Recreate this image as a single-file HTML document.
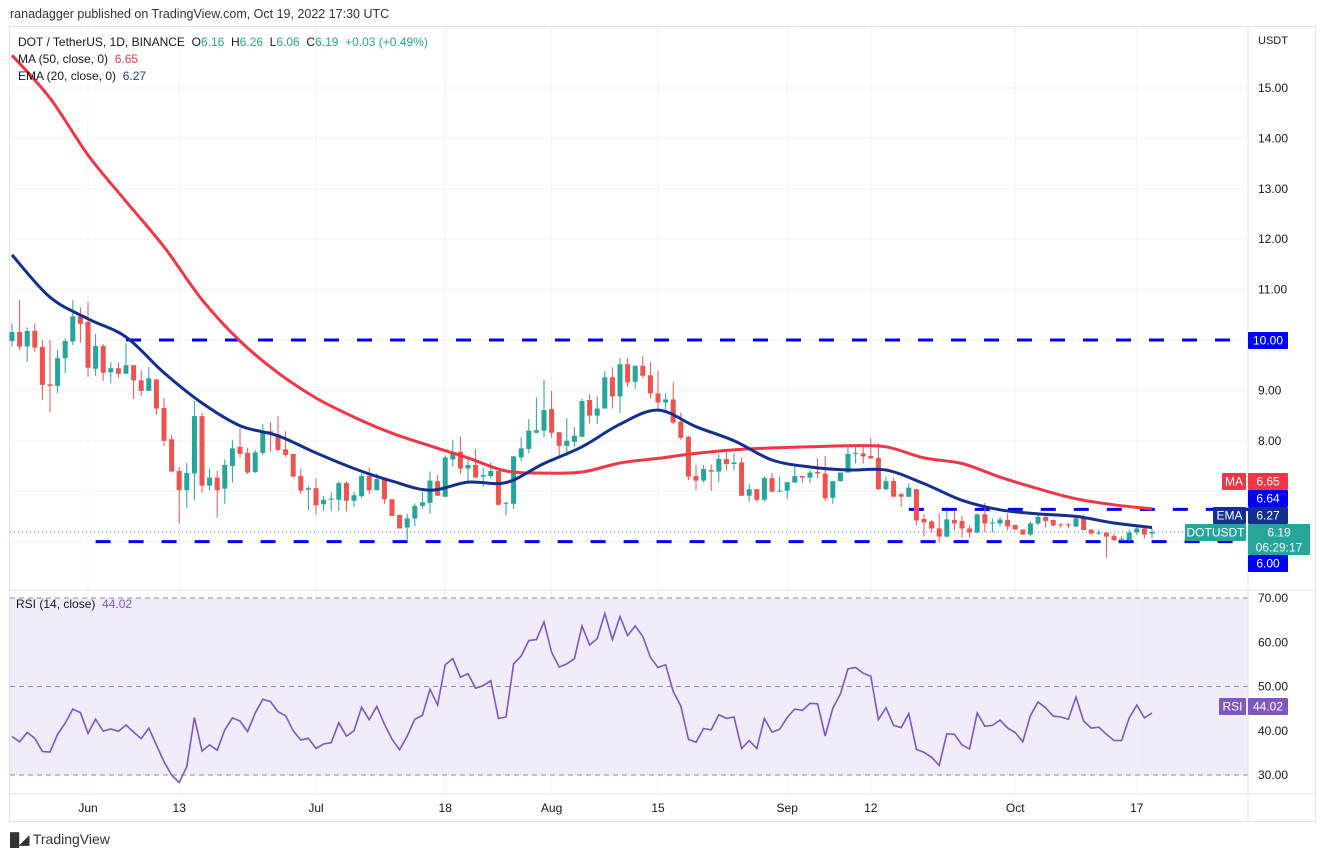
<!DOCTYPE html>
<html><head><meta charset="utf-8"><style>
body{margin:0;width:1326px;height:857px;background:#fff;font-family:"Liberation Sans",sans-serif;overflow:hidden;position:relative}
.t{position:absolute;font-size:12px;color:#131722;white-space:nowrap}
</style></head><body>
<div class="t" style="left:10px;top:7px;font-size:12.5px;color:#333">ranadagger published on TradingView.com, Oct 19, 2022 17:30 UTC</div>
<svg id="c" width="1326" height="857" style="position:absolute;left:0;top:0"></svg>
<div class="t" style="left:18px;top:35px">DOT / TetherUS, 1D, BINANCE&nbsp; O<span style="color:#26a69a">6.16</span>&nbsp; H<span style="color:#26a69a">6.26</span>&nbsp; L<span style="color:#26a69a">6.06</span>&nbsp; C<span style="color:#26a69a">6.19</span>&nbsp; <span style="color:#26a69a">+0.03 (+0.49%)</span></div>
<div class="t" style="left:18px;top:52px">MA (50, close, 0)&nbsp; <span style="color:#f23645">6.65</span></div>
<div class="t" style="left:18px;top:69px">EMA (20, close, 0)&nbsp; <span style="color:#1a3a9e">6.27</span></div>
<div class="t" style="left:16px;top:597px">RSI (14, close)&nbsp; <span style="color:#7e57c2">44.02</span></div>
<div class="t" style="left:10px;top:831px;font-size:14px;color:#333"><b style="font-size:13px">&#9608;&#9698;</b> TradingView</div>
<script>
const opens=[9.98,10.16,9.87,10.18,9.86,9.12,9.09,9.64,9.97,10.47,10.36,9.43,9.88,9.36,9.44,9.33,9.50,9.20,8.99,9.22,8.65,8.03,7.40,7.02,7.35,8.49,7.11,7.27,7.05,7.50,7.88,7.76,7.38,7.76,8.19,8.13,7.83,7.74,7.30,7.03,7.06,6.74,6.83,6.83,7.16,6.81,6.90,7.30,7.02,7.24,6.84,6.53,6.28,6.46,6.71,6.77,7.20,6.89,7.63,7.78,7.45,7.52,7.29,7.30,7.40,6.75,6.75,7.67,7.84,8.16,8.20,8.63,8.17,7.90,7.98,8.08,8.81,8.50,8.64,9.26,8.88,9.52,9.17,9.49,9.30,8.94,8.76,8.82,8.38,8.08,7.30,7.21,7.42,7.39,7.64,7.54,7.57,6.91,7.04,6.83,7.26,6.99,7.01,7.17,7.30,7.27,7.38,7.35,6.87,7.20,7.37,7.74,7.75,7.70,7.66,7.04,7.20,6.94,6.89,7.04,6.45,6.40,6.26,6.10,6.43,6.41,6.26,6.18,6.54,6.36,6.36,6.43,6.33,6.24,6.14,6.36,6.49,6.43,6.34,6.34,6.30,6.46,6.24,6.16,6.18,6.11,6.04,6.03,6.18,6.26,6.16];
const highs=[10.33,10.79,10.25,10.33,10.00,10.00,9.80,10.03,10.79,10.65,10.75,10.12,9.92,9.56,9.56,9.93,9.50,9.40,9.46,9.22,8.85,8.11,7.48,7.56,8.79,8.55,7.45,7.40,7.63,8.02,8.25,7.86,7.82,8.33,8.37,8.49,8.19,7.74,7.44,7.10,7.26,6.91,6.98,7.20,7.20,6.99,7.35,7.47,7.35,7.24,6.84,6.53,6.55,6.76,6.99,7.39,7.32,7.71,8.02,8.08,7.65,7.84,7.47,7.57,7.40,6.79,7.70,8.07,8.43,8.86,9.21,8.99,8.17,8.45,8.27,8.84,8.92,8.88,9.38,9.46,9.64,9.64,9.49,9.68,9.56,9.39,8.94,9.16,8.56,8.10,7.52,7.52,7.53,7.73,7.78,7.75,7.67,7.14,7.04,7.30,7.36,7.29,7.18,7.55,7.30,7.42,7.65,7.70,7.20,7.37,7.93,7.88,7.88,8.05,7.95,7.29,7.26,6.97,7.16,7.04,6.54,6.43,6.56,6.61,6.63,6.51,6.33,6.56,6.77,6.46,6.49,6.56,6.33,6.24,6.40,6.53,6.56,6.44,6.37,6.37,6.48,6.53,6.24,6.24,6.18,6.16,6.10,6.24,6.30,6.30,6.26];
const lows=[9.87,9.80,9.57,9.77,8.81,8.56,8.95,9.34,9.90,9.95,9.27,9.29,9.19,9.14,9.25,9.33,8.83,8.89,8.99,8.52,7.90,7.39,6.36,6.67,6.82,6.97,7.02,6.47,6.75,7.17,7.66,7.34,7.36,7.72,7.78,7.78,7.68,7.27,6.95,6.62,6.54,6.61,6.61,6.61,6.60,6.69,6.87,6.94,7.02,6.75,6.51,6.26,6.00,6.30,6.65,6.56,6.91,6.89,7.49,7.35,7.21,7.27,7.09,7.26,6.73,6.52,6.65,7.59,7.75,8.15,8.07,8.06,7.69,7.70,7.88,8.08,8.35,8.33,8.64,8.64,8.55,9.07,9.03,9.24,8.84,8.62,8.62,8.33,8.02,7.22,7.02,7.17,7.01,7.19,7.41,7.41,6.91,6.79,6.79,6.79,6.99,6.99,6.85,7.17,7.17,7.16,7.26,6.81,6.75,7.19,7.37,7.55,7.55,7.65,7.02,7.02,6.89,6.69,6.89,6.32,6.10,6.18,5.98,6.08,6.23,6.08,6.08,6.16,6.18,6.18,6.30,6.22,6.23,6.13,6.10,6.33,6.28,6.30,6.28,6.26,6.28,6.23,6.13,6.13,5.68,6.01,6.01,6.01,6.13,6.06,6.06];
const closes=[10.16,9.87,10.18,9.85,9.11,9.09,9.64,9.98,10.47,10.32,9.45,9.88,9.35,9.44,9.33,9.50,9.20,8.99,9.24,8.64,8.00,7.39,7.02,7.36,8.49,7.11,7.27,7.02,7.52,7.85,7.74,7.37,7.77,8.18,8.13,7.82,7.72,7.29,7.01,7.06,6.72,6.83,6.85,7.16,6.81,6.92,7.30,7.02,7.24,6.84,6.51,6.26,6.46,6.71,6.78,7.21,6.91,7.67,7.78,7.45,7.52,7.27,7.32,7.40,6.73,6.77,7.69,7.85,8.20,8.21,8.61,8.16,7.90,8.00,8.10,8.79,8.50,8.64,9.26,8.88,9.52,9.16,9.49,9.29,8.94,8.76,8.82,8.36,8.06,7.29,7.21,7.44,7.39,7.64,7.54,7.57,6.91,7.04,6.83,7.26,6.99,7.01,7.18,7.30,7.27,7.37,7.35,6.86,7.20,7.37,7.74,7.76,7.69,7.65,7.04,7.20,6.89,6.89,7.07,6.42,6.38,6.26,6.10,6.44,6.36,6.26,6.18,6.54,6.36,6.38,6.44,6.30,6.24,6.14,6.36,6.49,6.41,6.32,6.33,6.32,6.46,6.23,6.16,6.18,6.10,6.03,6.06,6.18,6.26,6.14,6.19];
const maIdx=[0,5,10,15,20,25,30,35,40,45,50,55,60,65,70,75,80,85,90,95,100,105,110,115,120,125,130,135,140,145,150];
const maVals=[15.65,14.8,13.67,12.75,11.85,10.8,9.98,9.35,8.85,8.47,8.15,7.90,7.66,7.40,7.36,7.38,7.56,7.65,7.75,7.82,7.86,7.88,7.90,7.88,7.66,7.55,7.28,7.05,6.85,6.73,6.65];
const emaVals=[11.69,10.85,10.42,10.06,9.35,8.75,8.30,8.10,7.76,7.45,7.20,7.02,7.18,7.17,7.55,7.88,8.33,8.61,8.28,8.00,7.62,7.48,7.42,7.42,7.15,6.82,6.63,6.55,6.50,6.37,6.28];
const rsiVals=[38.7,37.5,39.6,38.3,35.3,35.2,39.2,41.7,44.9,44.1,39.4,42.6,39.9,40.4,39.9,41.3,39.7,38.2,40.6,36.8,33.0,30.0,28.3,31.9,43.0,35.4,36.8,35.6,40.2,42.9,42.2,39.8,44.0,47.1,46.6,44.3,43.4,40.0,37.9,38.3,36.0,37.0,37.3,41.8,38.8,40.0,45.3,42.5,45.5,41.5,38.1,35.7,38.8,42.6,43.5,49.4,45.8,54.9,56.3,52.1,52.9,49.6,50.2,51.3,42.8,43.1,55.1,56.9,60.4,60.6,64.6,57.7,54.4,55.1,56.3,63.7,59.4,60.8,66.5,60.6,65.8,61.5,63.7,61.3,56.6,54.3,54.9,48.9,45.6,38.1,37.4,40.5,40.2,43.6,42.8,43.1,36.0,37.8,36.0,42.8,39.7,40.3,43.0,44.9,44.6,46.2,46.1,38.8,45.1,48.3,54.0,54.3,53.0,52.3,42.5,45.2,41.2,40.7,43.9,35.8,35.1,34.0,32.2,39.3,39.2,36.8,35.9,44.0,41.0,41.2,42.4,40.6,39.6,37.5,43.4,46.5,45.2,43.3,43.1,42.6,47.6,42.2,40.6,40.8,39.2,37.8,37.8,42.9,45.8,42.9,44.0];
const tickIdx=[10,22,40,57,71,85,102,113,132,148];
const tickLabels=["Jun","13","Jul","18","Aug","15","Sep","12","Oct","17"];
const priceTicks=[8,9,10,11,12,13,14,15];
const rsiTicks=[70,60,50,40,30];
const levels=[{v:10,from:15},{v:6,from:11},{v:6.64,from:118}];

const svg=document.getElementById('c');const NS='http://www.w3.org/2000/svg';
function mk(t,a,p){const e=document.createElementNS(NS,t);for(const k in a)e.setAttribute(k,a[k]);(p||svg).appendChild(e);return e;}
const X=i=>12+i*7.6, Y=p=>340-(p-10)*50.4, R=r=>598+(70-r)*4.425;
const L=10,RT=1248;
let f=mk('rect',{x:9.5,y:26.5,width:1306,height:795,fill:'none',stroke:'#e0e3eb'});


let rb=mk('rect',{x:L,y:598,width:RT-L,height:177,fill:'#f0ecf9'});


tickIdx.forEach((t,k)=>{let g=mk('line',{x1:X(t),x2:X(t),y1:27,y2:794,stroke:'#f0f1f4'});


let tx=mk('text',{x:X(t),y:812,'text-anchor':'middle','font-size':12,fill:'#131722'});tx.textContent=tickLabels[k];

});
[6,7].concat(priceTicks).forEach(p=>{let g=mk('line',{x1:L,x2:RT,y1:Y(p),y2:Y(p),stroke:'#f2f3f5'});

});
priceTicks.forEach(p=>{if(p==10)return;let tx=mk('text',{x:1258,y:Y(p)+4,'font-size':12,fill:'#131722'});tx.textContent=p.toFixed(2);

});
let ut=mk('text',{x:1258,y:44,'font-size':11,fill:'#131722'});ut.textContent='USDT';


rsiTicks.forEach(r=>{if(r==70||r==50||r==30){let d=mk('line',{x1:L,x2:RT,y1:R(r),y2:R(r),stroke:'#8a8d96','stroke-dasharray':'5 4'});

}
let tx=mk('text',{x:1258,y:R(r)+4,'font-size':12,fill:'#131722'});tx.textContent=r.toFixed(2);

});
[[RT,27,RT,822],[L,590,1316,590],[L,794,1316,794]].forEach(a=>{let l=mk('line',{x1:a[0],y1:a[1],x2:a[2],y2:a[3],stroke:'#e0e3eb'});

});
let cp=mk('line',{x1:L,x2:RT,y1:Y(closes[150]),y2:Y(closes[150]),stroke:'#26a69a','stroke-dasharray':'1 3'});


levels.forEach(l=>{let d=mk('line',{x1:X(l.from),x2:RT,y1:Y(l.v),y2:Y(l.v),stroke:'#0000ff','stroke-width':3,'stroke-dasharray':'15 18'});

});
closes.forEach((c,i)=>{const o=opens[i],up=c>=o,col=up?'#26a69a':'#ef5350';
const g=mk('g',{});


mk('line',{x1:X(i),x2:X(i),y1:Y(highs[i]),y2:Y(lows[i]),stroke:col,'stroke-width':1},g);
const t=Y(Math.max(o,c)),b=Y(Math.min(o,c));
mk('rect',{x:X(i)-2.5,y:t,width:5,height:Math.max(1,b-t),fill:col},g);});
function path(vals,idx,fn){return vals.map((v,k)=>(k?'L':'M')+X(idx[k]).toFixed(1)+' '+fn(v).toFixed(1)).join(' ');}
function smooth(vals,idx,fn){const P=vals.map((v,k)=>[X(idx[k]),fn(v)]);let d='M'+P[0][0]+' '+P[0][1];
for(let k=0;k<P.length-1;k++){const p0=P[k-1]||P[k],p1=P[k],p2=P[k+1],p3=P[k+2]||p2;
d+=' C'+(p1[0]+(p2[0]-p0[0])/6).toFixed(1)+' '+(p1[1]+(p2[1]-p0[1])/6).toFixed(1)+' '+(p2[0]-(p3[0]-p1[0])/6).toFixed(1)+' '+(p2[1]-(p3[1]-p1[1])/6).toFixed(1)+' '+p2[0].toFixed(1)+' '+p2[1].toFixed(1);}
return d;}
let ma=mk('path',{d:smooth(maVals,maIdx,Y),fill:'none',stroke:'#f23645','stroke-width':3,'stroke-linejoin':'round'});


let em=mk('path',{d:smooth(emaVals,maIdx,Y),fill:'none',stroke:'#13308f','stroke-width':3,'stroke-linejoin':'round'});


let rs=mk('path',{d:path(rsiVals,rsiVals.map((v,i)=>i),R),fill:'none',stroke:'#7e57c2','stroke-width':1.6});


function box(x,y,w,h,bg,txt,name,sz){const g=mk('g',{});


mk('rect',{x:x,y:y,width:w,height:h,fill:bg,rx:1},g);
const lines=txt.split('|');lines.forEach((s,k)=>{const t=mk('text',{x:x+w/2,y:y+12.5+k*15,'text-anchor':'middle','font-size':sz||12,fill:'#fff'},g);t.textContent=s;});}
box(1248,332,40,17,'#0000ff','10.00','level-10-label');
box(1222,473,24,17,'#f23645','MA','ma-tag');
box(1248,473,40,17,'#f23645','6.65','ma-price-label');
box(1248,490,40,17,'#0000ff','6.64','level-664-label');
box(1213,507,33,17,'#13308f','EMA','ema-tag');
box(1248,507,40,17,'#13308f','6.27','ema-price-label');
box(1185,524,61,17,'#26a69a','DOTUSDT','symbol-tag');
box(1248,524,62,31,'#26a69a','6.19|06:29:17','last-price-label');
box(1248,555,40,17,'#0000ff','6.00','level-6-label');
box(1248,698,40,17,'#7e57c2','44.02','rsi-value-label');
box(1219,698,27,17,'#7e57c2','RSI','rsi-tag');
</script>
</body></html>
